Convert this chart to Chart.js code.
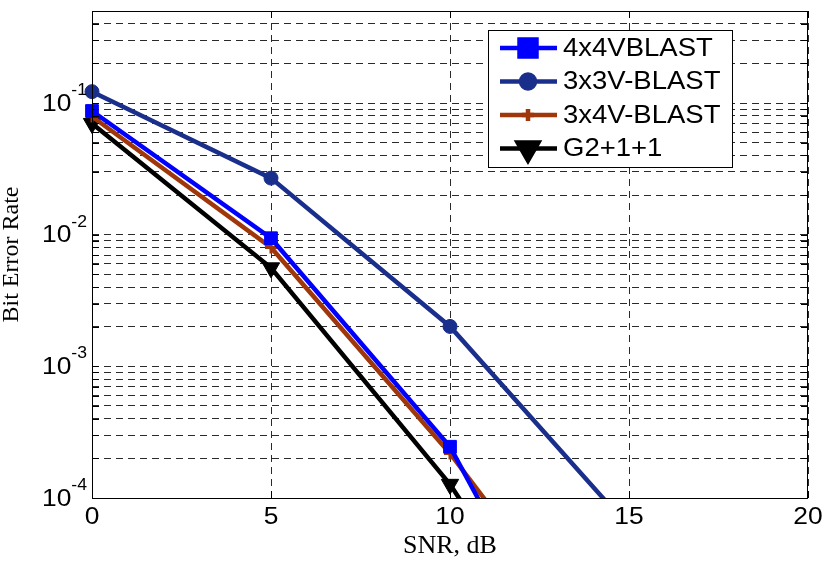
<!DOCTYPE html>
<html>
<head>
<meta charset="utf-8">
<script src="https://cdn.jsdelivr.net/npm/chart.js@4.4.1/dist/chart.umd.min.js"></script>
<style>
  html, body { margin: 0; padding: 0; background: #fff; }
  #wrap { width: 825px; height: 561px; }
</style>
</head>
<body>
<div id="wrap"><canvas id="myChart" width="825" height="561"></canvas></div>
<script>
// SNR points (dB) and bit error rates
const snr = [0, 5, 10, 15];
const ber4x4 = [0.087, 0.0094, 2.45e-4, 7.6e-7];
const ber3x3 = [0.122, 0.0269, 0.00201, 6.0e-5];
const ber3x4 = [0.079, 0.0080, 2.18e-4, 3.5e-6];
const berG2 = [0.070, 0.0056, 1.27e-4, 1.1e-6];

const seriesNames = ['4x4VBLAST', '3x3V-BLAST', '3x4V-BLAST', 'G2+1+1'];

// axis ticks
const xTicks = [0, 5, 10, 15, 20];
const xTickLabels = ['0', '5', '10', '15', '20'];
const yMajor = [1e-4, 1e-3, 1e-2, 1e-1];
const yMajorExp = ['-4', '-3', '-2', '-1'];
const yMin = 1e-4, yMax = 0.5;

// grid lines at 1..9 x 10^n
const yGrid = [];
yMajor.forEach(d => {
  for (let m = 1; m <= 9; m++) {
    const v = Number((m * d).toPrecision(3));
    if (v <= yMax) yGrid.push(v);
  }
});

const toPts = arr => arr.map((v, i) => ({ x: snr[i], y: v }));

const SANS = '"Liberation Sans", Arial, sans-serif';
const STRETCH = 1.1; // the source text is a bit wider than the font

// draw text stretched horizontally, anchored by align
function wideText(ctx, txt, x, y, align) {
  const w = ctx.measureText(txt).width * STRETCH;
  let x0 = x;
  if (align === 'center') x0 = x - w / 2;
  else if (align === 'right') x0 = x - w;
  ctx.save();
  ctx.textAlign = 'left';
  ctx.translate(x0, y);
  ctx.scale(STRETCH, 1);
  ctx.fillText(txt, 0, 0);
  ctx.restore();
  return w;
}

const overlay = {
  id: 'overlay',
  afterDraw(chart) {
    const { ctx, chartArea: a, scales: { x, y } } = chart;
    ctx.save();

    // inner tick marks
    ctx.strokeStyle = '#000';
    ctx.lineWidth = 1;
    ctx.beginPath();
    yGrid.forEach(v => {
      const py = Math.round(y.getPixelForValue(v)) + 0.5;
      ctx.moveTo(a.left, py); ctx.lineTo(a.left + 7, py);
      ctx.moveTo(a.right - 7, py); ctx.lineTo(a.right, py);
    });
    xTicks.forEach(v => {
      const px = Math.round(x.getPixelForValue(v)) + 0.5;
      ctx.moveTo(px, a.bottom); ctx.lineTo(px, a.bottom - 7);
      ctx.moveTo(px, a.top); ctx.lineTo(px, a.top + 7);
    });
    ctx.stroke();

    // box
    ctx.strokeRect(a.left + 0.5, a.top + 0.5, a.right - a.left - 1, a.bottom - a.top);

    // tick labels
    ctx.fillStyle = '#000';
    ctx.font = '24px ' + SANS;
    ctx.textBaseline = 'middle';
    xTicks.forEach((v, i) => {
      wideText(ctx, xTickLabels[i], x.getPixelForValue(v), a.bottom + 19, 'center');
    });
    yMajor.forEach((v, i) => {
      const py = y.getPixelForValue(v);
      ctx.font = '16px ' + SANS;
      ctx.textBaseline = 'alphabetic';
      const sw = wideText(ctx, yMajorExp[i], a.left - 5, py - 8, 'right');
      ctx.font = '24px ' + SANS;
      ctx.textBaseline = 'middle';
      wideText(ctx, '10', a.left - 5 - sw, py + 1, 'right');
    });

    // legend
    const lx = a.right - 320, ly = a.top + 19, lw = 244, lh = 137;
    ctx.fillStyle = '#fff';
    ctx.fillRect(lx, ly, lw, lh);
    ctx.strokeStyle = '#000';
    ctx.lineWidth = 1;
    ctx.strokeRect(lx + 0.5, ly + 0.5, lw, lh);
    chart.data.datasets.forEach((ds, i) => {
      const ry = ly + 18 + i * 33.5;
      ctx.strokeStyle = ds.borderColor;
      ctx.lineWidth = ds.borderWidth;
      ctx.beginPath();
      ctx.moveTo(lx + 12, ry); ctx.lineTo(lx + 69, ry);
      ctx.stroke();
      ctx.fillStyle = ds.pointBackgroundColor;
      ctx.strokeStyle = ds.pointBorderColor;
      Chart.helpers.drawPoint(ctx, {
        pointStyle: ds.pointStyle,
        radius: ds.legendRadius,
        rotation: ds.pointRotation || 0,
        borderWidth: ds.pointBorderWidth
      }, lx + 40, ry);
      ctx.fillStyle = '#000';
      ctx.font = '25px ' + SANS;
      ctx.textBaseline = 'middle';
      wideText(ctx, ds.label, lx + 75, ry + 1, 'left');
    });
    ctx.restore();
  }
};

const ctx = document.getElementById('myChart').getContext('2d');
const myChart = new Chart(ctx, {
  type: 'line',
  data: {
    datasets: [{
      label: seriesNames[0],
      data: toPts(ber4x4),
      borderColor: '#0000ff',
      pointBackgroundColor: '#0000ff',
      pointBorderColor: '#0000ff',
      pointStyle: 'rect',
      pointRadius: 9,
      legendRadius: 12,
      pointBorderWidth: 1,
      borderWidth: 4.5
    }, {
      label: seriesNames[1],
      data: toPts(ber3x3),
      borderColor: '#1a2e8c',
      pointBackgroundColor: '#1a2e8c',
      pointBorderColor: '#1a2e8c',
      pointStyle: 'circle',
      pointRadius: 7,
      legendRadius: 7,
      pointBorderWidth: 1,
      borderWidth: 4.5
    }, {
      label: seriesNames[2],
      data: toPts(ber3x4),
      borderColor: '#a0370b',
      pointBackgroundColor: '#a0370b',
      pointBorderColor: '#a0370b',
      pointStyle: 'cross',
      pointRadius: 6,
      legendRadius: 6,
      pointBorderWidth: 3,
      borderWidth: 4.5
    }, {
      label: seriesNames[3],
      data: toPts(berG2),
      borderColor: '#000000',
      pointBackgroundColor: '#000000',
      pointBorderColor: '#000000',
      pointStyle: 'triangle',
      pointRotation: 180,
      pointRadius: 10,
      legendRadius: 12,
      pointBorderWidth: 1,
      borderWidth: 4.5
    }]
  },
  options: {
    responsive: false,
    animation: false,
    layout: { padding: { left: 0, right: 17, top: 6, bottom: 0 } },
    elements: { line: { tension: 0 } },
    datasets: { line: { clip: { left: 20, right: 20, top: 20, bottom: 0 } } },
    plugins: {
      legend: { display: false },
      tooltip: { enabled: false }
    },
    scales: {
      x: {
        type: 'linear',
        min: 0,
        max: 20,
        afterBuildTicks: s => { s.ticks = xTicks.map(v => ({ value: v })); },
        afterFit: s => { s.height = 63; },
        ticks: { display: false },
        grid: { color: '#2a2a2a', lineWidth: 1, drawTicks: false },
        border: { display: false, dash: [7, 5] },
        title: {
          display: true,
          text: 'SNR, dB',
          color: '#000',
          font: { family: '"Liberation Serif", "Times New Roman", serif', size: 26, lineHeight: 1 },
          padding: { top: 0, bottom: 2 }
        }
      },
      y: {
        type: 'logarithmic',
        min: yMin,
        max: yMax,
        afterBuildTicks: s => { s.ticks = yGrid.map(v => ({ value: v })); },
        afterFit: s => { s.width = 92; },
        ticks: { display: false },
        grid: { color: '#2a2a2a', lineWidth: 1, drawTicks: false },
        border: { display: false, dash: [7, 5] },
        title: {
          display: true,
          text: 'Bit Error Rate',
          color: '#000',
          font: { family: '"Liberation Serif", "Times New Roman", serif', size: 24, lineHeight: 1 },
          padding: { top: 0, bottom: 0 }
        }
      }
    }
  },
  plugins: [overlay]
});
</script>
</body>
</html>
